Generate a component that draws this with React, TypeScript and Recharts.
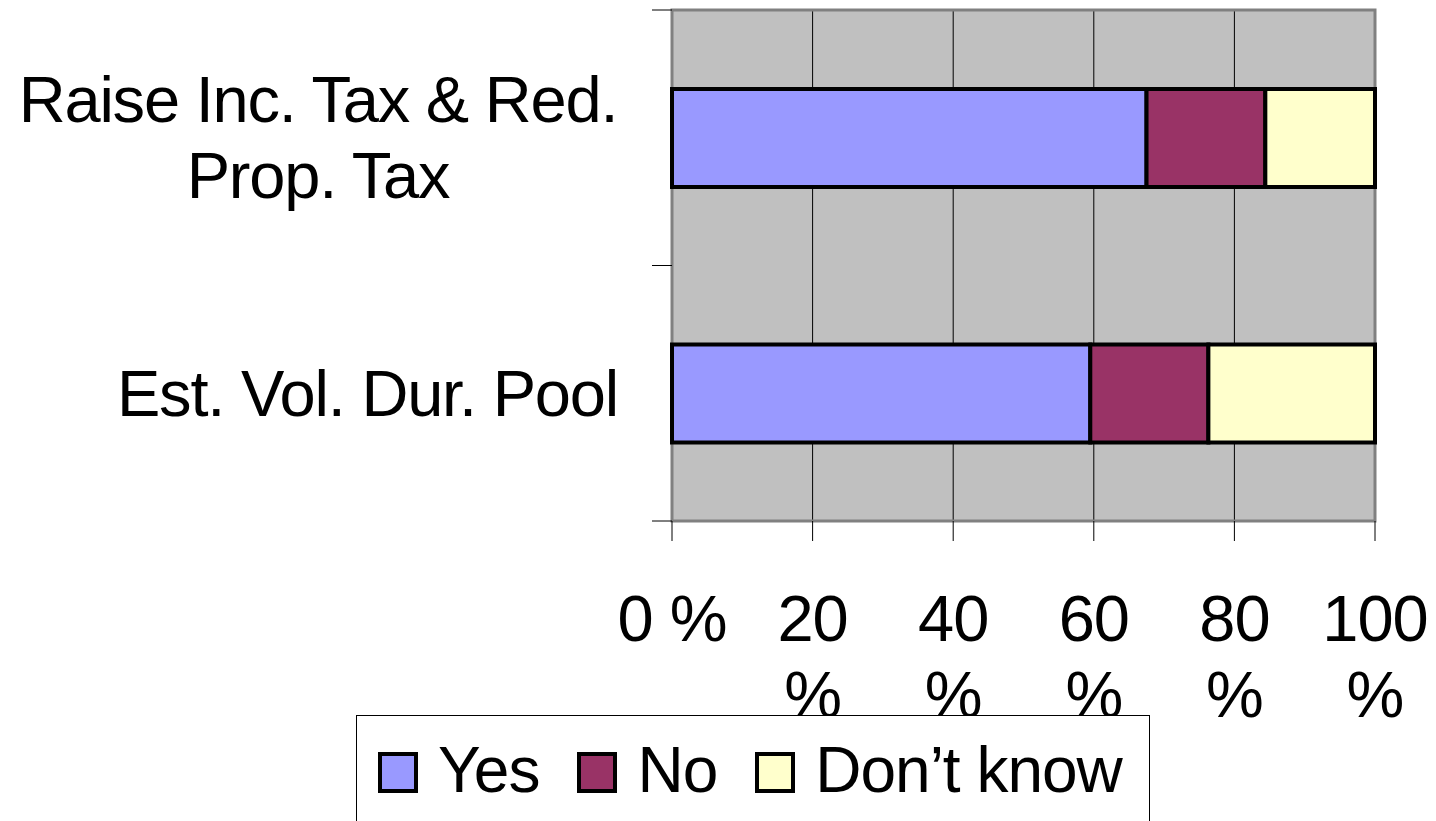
import React from "react";
import {
  BarChart,
  Bar,
  XAxis,
  YAxis,
  CartesianGrid,
  Legend,
  ReferenceArea,
} from "recharts";

const categories = ["Raise Inc. Tax & Red.\nProp. Tax", "Est. Vol. Dur. Pool"];
const yesValues = [67.5, 59.5];
const noValues = [16.9, 16.8];
const dontKnowValues = [15.6, 23.7];
const xTicks = [0, 20, 40, 60, 80, 100];

const seriesNames = ["Yes", "No", "Don\u2019t know"];
const seriesKeys = ["yes", "no", "dk"];
const seriesColors = ["#9999FF", "#993366", "#FFFFCC"];

const data = categories.map((name, i) => ({
  name,
  yes: yesValues[i],
  no: noValues[i],
  dk: dontKnowValues[i],
}));

const FONT = "'Liberation Sans', Arial, Helvetica, sans-serif";

const CHART_W = 1436;
const CHART_H = 821;
const MARGIN = { top: 10, right: 61, left: 0, bottom: 0 };
const X_AXIS_H = 300;
const Y_AXIS_W = 672;
const PLOT_H = CHART_H - MARGIN.top - MARGIN.bottom - X_AXIS_H;
const HALF_BAND = PLOT_H / categories.length / 2;

const YTick = (props: any) => {
  const { x, y, payload, index } = props;
  const lines = String(payload.value).split("\n");
  const isLast = index === categories.length - 1;
  const marks = (
    <g stroke="#000" strokeWidth={1}>
      <line x1={x - 20} x2={x} y1={y - HALF_BAND} y2={y - HALF_BAND} />
      {isLast && <line x1={x - 20} x2={x} y1={y + HALF_BAND} y2={y + HALF_BAND} />}
    </g>
  );
  if (lines.length === 1) {
    return (
      <g>
        {marks}
        <text
          x={x - 54}
          y={y + 23}
          textAnchor="end"
          fontFamily={FONT}
          fontSize={65}
          letterSpacing={-1.2}
          fill="#000"
        >
          {lines[0]}
        </text>
      </g>
    );
  }
  const cx = x - 354;
  return (
    <g>
      {marks}
      <text
        textAnchor="middle"
        fontFamily={FONT}
        fontSize={65}
        letterSpacing={-1.2}
        fill="#000"
      >
        {lines.map((l, i) => (
          <tspan key={i} x={cx} y={y - 16 + i * 76}>
            {l}
          </tspan>
        ))}
      </text>
    </g>
  );
};

const XTick = (props: any) => {
  const { x, y, payload } = props;
  const v = payload.value;
  const lines = v === 0 ? ["0 %"] : [String(v), "%"];
  return (
    <text
      textAnchor="middle"
      fontFamily={FONT}
      fontSize={65}
      letterSpacing={-1}
      fill="#000"
    >
      {lines.map((l, i) => (
        <tspan key={i} x={x} y={y + 100 + i * 76}>
          {l}
        </tspan>
      ))}
    </text>
  );
};

const LegendContent = () => (
  <div
    style={{
      boxSizing: "border-box",
      width: "100%",
      height: "100%",
      border: "1px solid #000",
      background: "#fff",
      fontFamily: FONT,
      fontSize: 64,
      letterSpacing: -1,
      display: "flex",
      alignItems: "flex-start",
      paddingLeft: 21,
      paddingTop: 29,
    }}
  >
    {seriesNames.map((n, i) => (
      <div
        key={n}
        style={{
          display: "flex",
          alignItems: "flex-start",
          marginRight: 38,
          height: 50,
          lineHeight: "50px",
        }}
      >
        <div
          style={{
            boxSizing: "border-box",
            width: 40,
            height: 41,
            marginTop: 7,
            background: seriesColors[i],
            border: "4px solid #000",
            marginRight: 20,
          }}
        />
        <span style={{ whiteSpace: "nowrap" }}>{n}</span>
      </div>
    ))}
  </div>
);

export default function App() {
  return (
    <div
      style={{
        position: "absolute",
        left: 0,
        top: 0,
        width: CHART_W,
        height: CHART_H,
        overflow: "hidden",
        background: "#fff",
      }}
    >
      <BarChart
        width={CHART_W}
        height={CHART_H}
        data={data}
        layout="vertical"
        margin={MARGIN}
        barSize={98}
      >
        <CartesianGrid
          horizontal={false}
          vertical={true}
          stroke="#000"
          strokeWidth={1}
          fill="#C0C0C0"
          fillOpacity={1}
        />
        <XAxis
          type="number"
          domain={[0, 100]}
          ticks={xTicks}
          interval={0}
          height={X_AXIS_H}
          tickSize={20}
          tickMargin={0}
          tickLine={{ stroke: "#000", strokeWidth: 1 }}
          axisLine={false}
          tick={<XTick />}
        />
        <YAxis
          type="category"
          dataKey="name"
          width={Y_AXIS_W}
          tickSize={0}
          tickMargin={0}
          tickLine={false}
          axisLine={false}
          tick={<YTick />}
          interval={0}
        />
        {seriesKeys.map((k, i) => (
          <Bar
            key={k}
            dataKey={k}
            name={seriesNames[i]}
            stackId="a"
            fill={seriesColors[i]}
            stroke="#000"
            strokeWidth={4}
            isAnimationActive={false}
          />
        ))}
        <ReferenceArea
          x1={0}
          x2={100}
          fill="none"
          stroke="#808080"
          strokeWidth={3}
          ifOverflow="visible"
        />
        <Legend
          layout="vertical"
          align="center"
          verticalAlign="middle"
          content={<LegendContent />}
          wrapperStyle={{ left: 356, top: 715, width: 794, height: 115 }}
        />
      </BarChart>
    </div>
  );
}
